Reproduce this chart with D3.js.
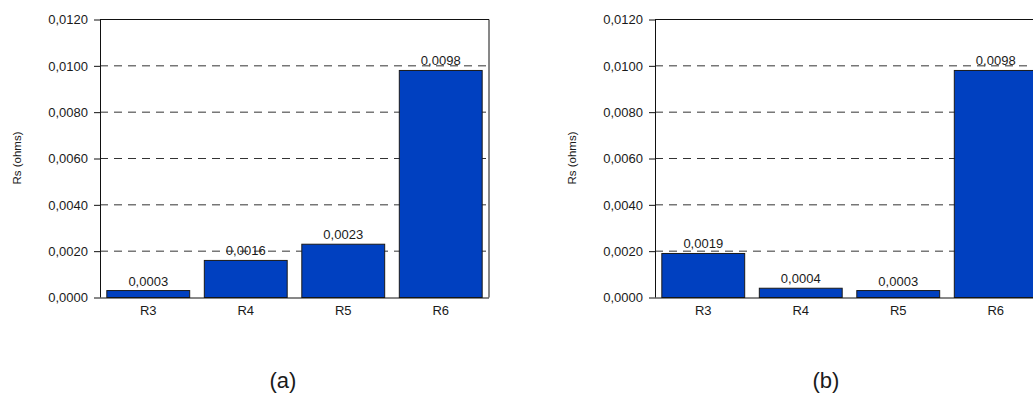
<!DOCTYPE html>
<html>
<head>
<meta charset="utf-8">
<script src="https://cdn.jsdelivr.net/npm/d3@7"></script>
<style>
  html, body { margin: 0; padding: 0; background: #fff; }
  svg { display: block; font-family: Arial, "Liberation Sans", sans-serif; }
</style>
</head>
<body>
<svg id="chart" width="1033" height="401"></svg>
<script>
// Series resistance per resistor, two measurement sets
const categories = ["R3", "R4", "R5", "R6"];
const valuesA = [0.0003, 0.0016, 0.0023, 0.0098];
const valuesB = [0.0019, 0.0004, 0.0003, 0.0098];
const yTicks = [0, 0.002, 0.004, 0.006, 0.008, 0.010, 0.012];
const yTitle = "Rs (ohms)";
const captions = ["(a)", "(b)"];

const svg = d3.select("#chart");
const locale = d3.formatLocale({ decimal: ",", thousands: ".", grouping: [3], currency: ["", ""] });
const fmt = locale.format(".4f");

const plotTop = 19.5, plotBottom = 297.5, plotW = 389;
const barColor = "#0040C0";
const textColor = "#1a1a1a";
const fontSize = 13;

function drawPanel(values, left, titleX, caption, captionX) {
  const g = svg.append("g");
  const x = d3.scaleBand().domain(categories).range([left, left + plotW])
    .paddingInner(0.15).paddingOuter(0.07);
  const y = d3.scaleLinear().domain([0, 0.012]).range([plotBottom, plotTop]);

  // dashed gridlines
  g.append("g").selectAll("line").data(yTicks.slice(1, -1)).join("line")
    .attr("x1", left).attr("x2", left + plotW)
    .attr("y1", d => y(d)).attr("y2", d => y(d))
    .attr("stroke", "#333").attr("stroke-width", 1)
    .attr("stroke-dasharray", "8,6");

  // top and right plot border
  g.append("path")
    .attr("d", `M${left},${y(0.012)}H${left + plotW}V${plotBottom}`)
    .attr("fill", "none").attr("stroke", "#111").attr("stroke-width", 1);

  // bars
  g.append("g").selectAll("rect").data(values).join("rect")
    .attr("x", (d, i) => x(categories[i]))
    .attr("width", x.bandwidth())
    .attr("y", d => y(d))
    .attr("height", d => plotBottom - y(d))
    .attr("fill", barColor).attr("stroke", "#1a1a1a").attr("stroke-width", 1);

  // value labels
  g.append("g").selectAll("text").data(values).join("text")
    .attr("x", (d, i) => x(categories[i]) + x.bandwidth() / 2)
    .attr("y", d => y(d) - 5)
    .attr("text-anchor", "middle")
    .attr("font-size", fontSize).attr("fill", textColor)
    .text(d => fmt(d));

  // y axis
  const yAxis = d3.axisLeft(y).tickValues(yTicks).tickFormat(fmt).tickSize(6).tickPadding(6);
  const ya = g.append("g").attr("transform", `translate(${left},0)`).call(yAxis);
  ya.select(".domain").attr("stroke", "#111").attr("d", `M0.5,${plotTop}V${plotBottom}`);
  ya.selectAll(".tick line").attr("stroke", "#111");
  ya.selectAll(".tick text").attr("font-size", fontSize).attr("fill", textColor)
    .attr("font-family", "Arial, 'Liberation Sans', sans-serif");

  // x axis
  const xAxis = d3.axisBottom(x).tickSize(0).tickPadding(8);
  const xa = g.append("g").attr("transform", `translate(0,${plotBottom})`).call(xAxis);
  xa.select(".domain").attr("stroke", "#111").attr("d", `M${left},0.5H${left + plotW}`);
  xa.selectAll(".tick text").attr("font-size", fontSize).attr("fill", textColor)
    .attr("font-family", "Arial, 'Liberation Sans', sans-serif");

  // y axis title
  g.append("text")
    .attr("transform", `translate(${titleX},158) rotate(-90)`)
    .attr("text-anchor", "middle").attr("font-size", 11.5).attr("fill", textColor)
    .text(yTitle);

  // panel caption
  g.append("text")
    .attr("x", captionX).attr("y", 388)
    .attr("text-anchor", "middle").attr("font-size", 22).attr("fill", textColor)
    .text(caption);
}

drawPanel(valuesA, 100, 21, captions[0], 283);
drawPanel(valuesB, 655, 576, captions[1], 826);
</script>
</body>
</html>
